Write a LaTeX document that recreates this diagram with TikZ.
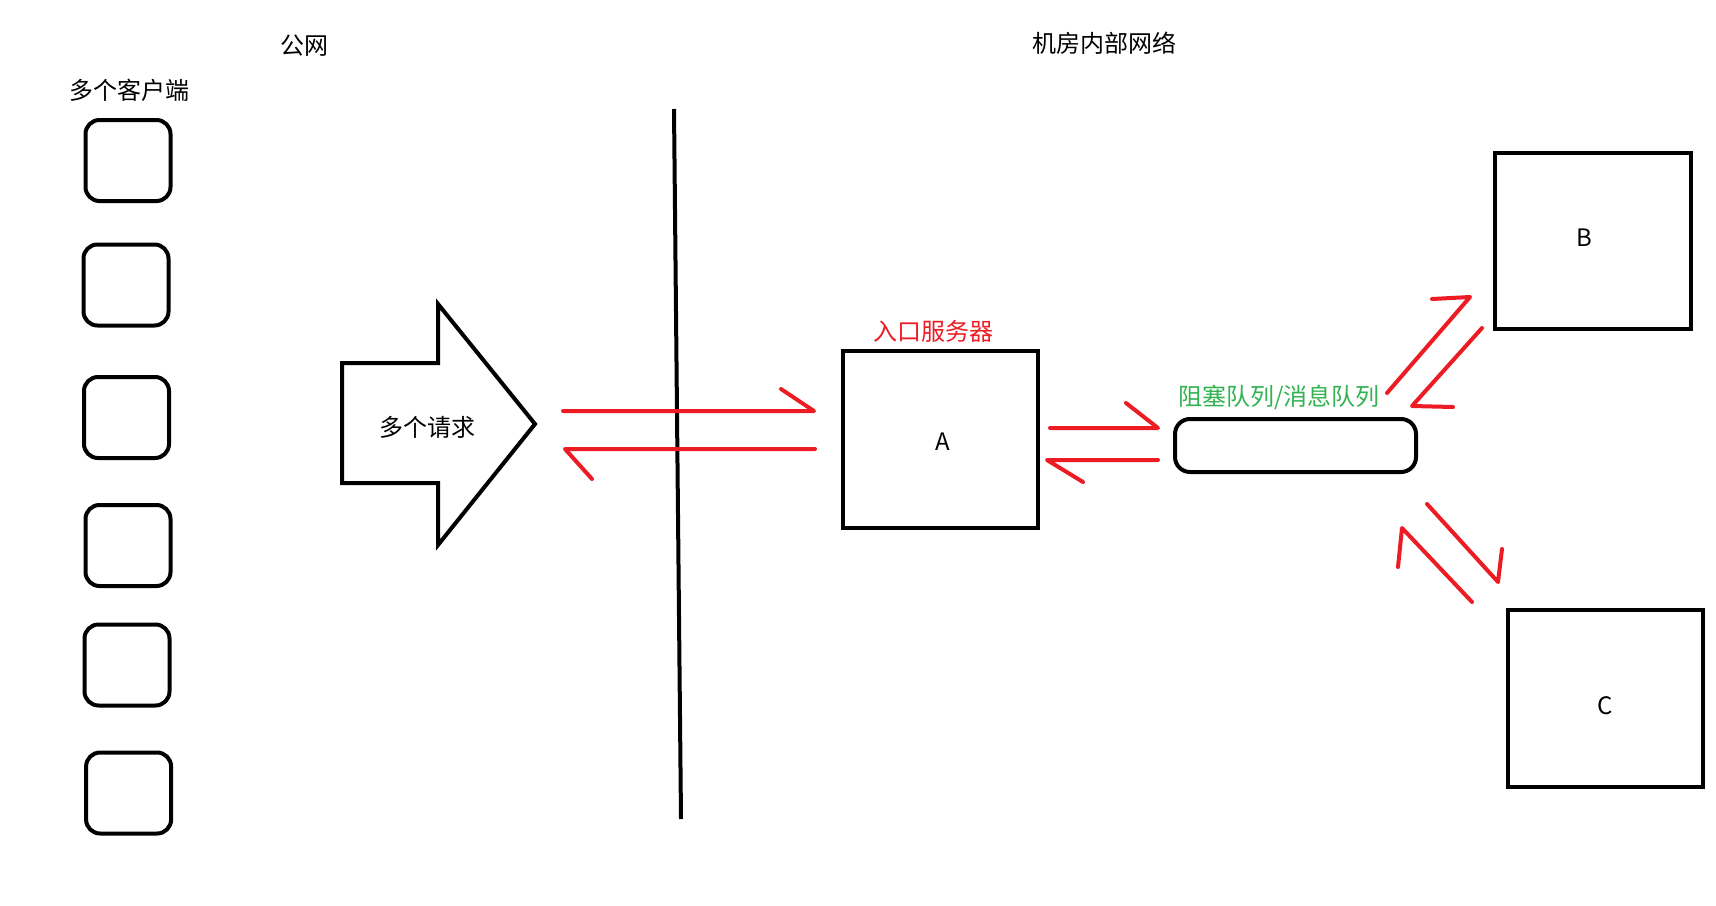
\documentclass[tikz,border=0pt]{standalone}
\usepackage{fontspec}
\setmainfont{Noto Sans CJK SC}
\definecolor{pred}{RGB}{237,28,36}
\definecolor{pgreen}{RGB}{50,178,80}
\begin{document}
\begin{tikzpicture}[x=1pt,y=-1pt,
  txt/.style={inner sep=0pt,font=\fontsize{24}{28}\selectfont},
  client/.style={draw,line width=4pt,rounded corners=14pt,minimum width=85pt,minimum height=81pt,inner sep=0pt},
  server/.style={draw,line width=4pt,minimum width=195pt,minimum height=177pt,inner sep=0pt},
  queuebox/.style={draw,line width=4pt,rounded corners=15pt,minimum width=241pt,minimum height=53pt,inner sep=0pt},
  harp/.style={draw=pred,line width=4pt,line cap=round,line join=round}]
\useasboundingbox (0,0) rectangle (1716,905);
\fill[white] (0,0) rectangle (1716,905);

% titles
\node[txt] (pub) at (304,46) {公网};
\node[txt] (inner) at (1104,43) {机房内部网络};
\node[txt] (clients) at (129,90) {多个客户端};

% client boxes
\node[client] (c1) at (128,160.5) {};
\node[client] (c2) at (126,285) {};
\node[client] (c3) at (126.5,417.5) {};
\node[client] (c4) at (128,545.5) {};
\node[client] (c5) at (127,665) {};
\node[client] (c6) at (128.6,793) {};

% big arrow
\draw[line width=4pt,line join=miter] (342,363) -- (438,363) -- (438,304) -- (535,424) -- (438,545) -- (438,483) -- (342,483) -- cycle;
\node[txt] (req) at (427,427) {多个请求};

% divider
\coordinate (dtop) at (674,109);
\coordinate (dbot) at (681,819);
\draw[line width=4pt] (dtop) -- (dbot);

% server A
\node[server] (A) at (940.5,439.5) {};
\node[txt] at (943,442) {A};
\node[txt,text=pred] (Alab) at (933,331) {入口服务器};

% queue
\node[queuebox] (Q) at (1295.5,445.5) {};
\node[txt,text=pgreen] (Qlab) at (1279,397) {阻塞队列/消息队列};

% B and C
\node[server,minimum width=196pt,minimum height=176pt] (B) at (1593,241) {};
\node[txt] at (1584,238) {B};
\node[server] (C) at (1605.5,698.5) {};
\node[txt] at (1605,706) {C};

% red arrows: clients <-> A
\coordinate (r1s) at (563,411); \coordinate (r1t) at (814,411); \coordinate (r1b) at (781,389);
\coordinate (r2s) at (815,449); \coordinate (r2t) at (565,449); \coordinate (r2b) at (592,479);
\path[harp] (r1s) -- (r1t) -- (r1b);
\path[harp] (r2s) -- (r2t) -- (r2b);

% A <-> queue
\coordinate (r3s) at (1050,428); \coordinate (r3t) at (1158,428); \coordinate (r3b) at (1126,403);
\coordinate (r4s) at (1158,460); \coordinate (r4t) at (1047,460); \coordinate (r4b) at (1083,482);
\path[harp] (r3s) -- (r3t) -- (r3b);
\path[harp] (r4s) -- (r4t) -- (r4b);

% queue <-> B
\coordinate (r5s) at (1387,393); \coordinate (r5t) at (1470,297); \coordinate (r5b) at (1432,299);
\coordinate (r6s) at (1482,328); \coordinate (r6t) at (1412,406); \coordinate (r6b) at (1453,407);
\path[harp] (r5s) -- (r5t) -- (r5b);
\path[harp] (r6s) -- (r6t) -- (r6b);

% queue <-> C
\coordinate (r7s) at (1427,504); \coordinate (r7t) at (1498,582); \coordinate (r7b) at (1502,549);
\coordinate (r8s) at (1472,602); \coordinate (r8t) at (1402,528); \coordinate (r8b) at (1398,567);
\path[harp] (r7s) -- (r7t) -- (r7b);
\path[harp] (r8s) -- (r8t) -- (r8b);
\end{tikzpicture}
\end{document}
